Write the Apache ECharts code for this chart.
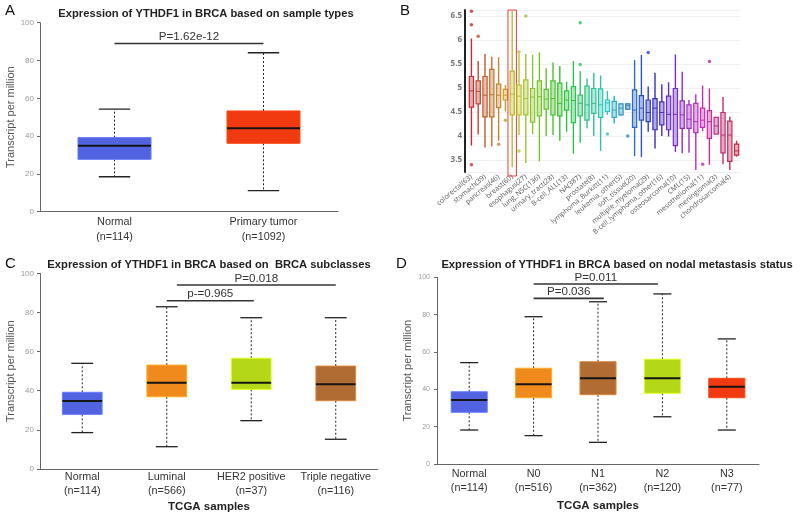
<!DOCTYPE html>
<html><head><meta charset="utf-8">
<script src="https://cdn.jsdelivr.net/npm/echarts@6/dist/echarts.min.js"></script>
<style>html,body{margin:0;padding:0;background:#fff}#c{width:800px;height:517px}</style>
</head><body><div id="c"></div>
<script>
// ---------- Panel A: sample types ----------
const catsA = ['Normal\n(n=114)', 'Primary tumor\n(n=1092)'];
// [min, Q1, median, Q3, max]
const boxA = [[18.5, 27.7, 34.9, 39.2, 54.3], [11.1, 36.2, 44.1, 53.3, 84.1]];
const colorsA = ['#5163e0', '#f23a10'];
const sigA = [[0, 1, 89, 'P=1.62e-12']];

// ---------- Panel B: cell lines (CCLE) ----------
const catsB = ['colorectal(63)', '', 'stomach(39)', '', 'pancreas(46)', '', 'breast(60)', '', 'esophagus(27)', '',
  'lung_NSC(136)', '', 'urinary_tract(28)', '', 'B-cell_ALL(13)', '', 'NA(387)', '', 'prostate(8)', '',
  'lymphoma_Burkitt(11)', '', 'leukemia_other(5)', '', 'soft_tissue(20)', '', 'multiple_myeloma(29)', '', 'B-cell_lymphoma_other(16)', '',
  'osteosarcoma(10)', '', 'CML(15)', '', 'mesothelioma(11)', '', 'meningioma(3)', '', 'chondrosarcoma(4)', ''];
const boxB = [
  [3.80, 4.60, 4.94, 5.24, 6.03], [4.03, 4.67, 4.93, 5.15, 5.56], [3.76, 4.40, 4.85, 5.24, 5.71], [3.78, 4.40, 4.86, 5.39, 5.65],
  [3.90, 4.59, 4.85, 5.08, 5.64], [4.51, 4.75, 4.85, 4.97, 5.06], [3.35, 4.44, 4.87, 5.35, 6.60], [4.02, 4.44, 4.83, 5.06, 5.72],
  [3.44, 4.44, 4.78, 5.17, 5.71], [4.04, 4.29, 4.81, 4.99, 5.69], [3.47, 4.42, 4.82, 5.15, 5.74], [4.00, 4.56, 4.77, 4.97, 5.41],
  [4.02, 4.44, 4.78, 5.15, 5.53], [3.90, 4.42, 4.68, 5.10, 5.46], [4.09, 4.54, 4.75, 4.94, 5.13], [3.63, 4.28, 4.74, 5.03, 5.56],
  [3.86, 4.42, 4.68, 4.85, 5.35], [4.16, 4.33, 4.65, 5.04, 5.20], [4.00, 4.47, 4.68, 4.99, 5.32], [3.69, 4.39, 4.65, 4.98, 5.26],
  [4.44, 4.51, 4.69, 4.75, 4.94], [4.26, 4.39, 4.54, 4.72, 4.84], [4.42, 4.44, 4.58, 4.67, 4.69], [4.54, 4.56, 4.63, 4.67, 4.68],
  [3.58, 4.18, 4.54, 4.96, 5.58], [3.56, 4.33, 4.58, 4.84, 5.69], [4.09, 4.30, 4.49, 4.75, 5.03], [3.74, 4.13, 4.58, 4.78, 5.32],
  [4.00, 4.23, 4.49, 4.71, 5.08], [3.99, 4.13, 4.45, 4.83, 5.12], [3.67, 3.80, 4.45, 4.99, 5.70], [3.64, 4.16, 4.44, 4.73, 5.34],
  [3.65, 4.16, 4.35, 4.65, 4.75], [3.29, 4.07, 4.30, 4.68, 4.87], [4.10, 4.18, 4.33, 4.58, 5.05], [3.40, 3.95, 4.30, 4.53, 4.99],
  [4.04, 4.04, 4.21, 4.39, 4.39], [3.41, 3.65, 4.02, 4.49, 4.81], [3.29, 3.47, 4.02, 4.31, 4.40], [3.57, 3.60, 3.69, 3.83, 3.90]
];
// [category index, value]
const outliersB = [[0, 6.32], [0, 6.60], [0, 3.40], [1, 6.08], [4, 3.83], [5, 4.33], [7, 5.75], [7, 3.69], [8, 6.50],
  [16, 6.36], [16, 5.49], [20, 4.04], [23, 4.00], [26, 5.74], [34, 3.41], [35, 5.55]];
const highlightB = [6];

// ---------- Panel C: BRCA subclasses ----------
const catsC = ['Normal\n(n=114)', 'Luminal\n(n=566)', 'HER2 positive\n(n=37)', 'Triple negative\n(n=116)'];
const boxC = [[18.6, 27.9, 34.7, 39.2, 54.0], [11.4, 36.9, 44.1, 53.1, 82.9], [24.7, 40.7, 44.1, 56.6, 77.3], [15.2, 34.9, 43.3, 52.6, 77.3]];
const colorsC = ['#5163e0', '#f08a1c', '#b4d817', '#b06c33'];
const sigC = [[1.12, 3, 94, 'P=0.018'], [1, 2.03, 86, 'p-=0.965']];

// ---------- Panel D: nodal metastasis ----------
const catsD = ['Normal\n(n=114)', 'N0\n(n=516)', 'N1\n(n=362)', 'N2\n(n=120)', 'N3\n(n=77)'];
const boxD = [[18.2, 27.7, 34.3, 38.7, 54.3], [15.2, 35.5, 42.7, 51.3, 78.9], [11.6, 37.1, 45.9, 54.8, 86.9], [25.3, 37.9, 45.9, 56.1, 91.1], [18.2, 35.5, 41.4, 45.9, 67.0]];
const colorsD = ['#5163e0', '#f08a1c', '#b06c33', '#b4d817', '#f23a10'];
const sigD = [[1, 2.93, 96.4, 'P=0.011'], [1, 2.09, 88.7, 'P=0.036']];

// ---------- rendering helpers ----------
const colorB = i => 'hsl(' + Math.round(i * 360 / catsB.length) + ',62%,47%)';
const colorBa = i => 'hsla(' + Math.round(i * 360 / catsB.length) + ',62%,55%,0.45)';

function boxRender(colors, boxRatio, capRatio) {
  return function (params, api) {
    const i = api.value(0);
    const bw = api.size([1, 0])[0];
    const h = bw * boxRatio / 2, ch = h * capRatio;
    const p = k => api.coord([i, api.value(k)]);
    const lo = p(1), q1 = p(2), md = p(3), q3 = p(4), hi = p(5);
    const x = md[0];
    const col = colors[params.dataIndex];
    const dash = { stroke: '#222', lineWidth: 1, lineDash: [2, 2] };
    const cap = { stroke: '#222', lineWidth: 1.3 };
    return { type: 'group', children: [
      { type: 'line', shape: { x1: x, y1: q3[1], x2: x, y2: hi[1] }, style: dash },
      { type: 'line', shape: { x1: x, y1: q1[1], x2: x, y2: lo[1] }, style: dash },
      { type: 'line', shape: { x1: x - ch, y1: hi[1], x2: x + ch, y2: hi[1] }, style: cap },
      { type: 'line', shape: { x1: x - ch, y1: lo[1], x2: x + ch, y2: lo[1] }, style: cap },
      { type: 'rect', shape: { x: x - h, y: q3[1], width: 2 * h, height: q1[1] - q3[1] },
        style: { fill: col, stroke: echarts.color.lift(col, -0.25), lineWidth: 1 } },
      { type: 'line', shape: { x1: x - h, y1: md[1], x2: x + h, y2: md[1] }, style: { stroke: '#151515', lineWidth: 2 } }
    ] };
  };
}

function sigRender(sig) {
  return function (params, api) {
    const s = sig[params.dataIndex];
    const bw = api.size([1, 0])[0];
    const xf = v => api.coord([Math.floor(v), s[2]])[0] + (v - Math.floor(v)) * bw;
    const y = api.coord([0, s[2]])[1];
    const x1 = xf(s[0]), x2 = xf(s[1]);
    return { type: 'group', children: [
      { type: 'line', shape: { x1: x1, y1: y, x2: x2, y2: y }, style: { stroke: '#333', lineWidth: 1.6 } },
      { type: 'text', x: (x1 + x2) / 2, y: y - 0.5,
        style: { text: s[3], fill: '#333', font: '11.6px Arial', textAlign: 'center', textVerticalAlign: 'bottom', align: 'center', verticalAlign: 'bottom' } }
    ] };
  };
}

function renderB(params, api) {
  const i = api.value(0);
  const bw = api.size([1, 0])[0];
  const h = bw * 0.31;
  const p = k => api.coord([i, api.value(k)]);
  const lo = p(1), q1 = p(2), md = p(3), q3 = p(4), hi = p(5);
  const x = md[0];
  const col = colorB(i);
  const children = [
    { type: 'line', shape: { x1: x, y1: q3[1], x2: x, y2: hi[1] }, style: { stroke: col, lineWidth: 1.4 } },
    { type: 'line', shape: { x1: x, y1: q1[1], x2: x, y2: lo[1] }, style: { stroke: col, lineWidth: 1.4 } },
    { type: 'rect', shape: { x: x - h, y: q3[1], width: 2 * h, height: q1[1] - q3[1] }, style: { fill: colorBa(i), stroke: col, lineWidth: 1.2 } },
    { type: 'line', shape: { x1: x - h, y1: md[1], x2: x + h, y2: md[1] }, style: { stroke: col, lineWidth: 1 } }
  ];
  if (highlightB.indexOf(i) >= 0) {
    const cs = params.coordSys;
    const hw = bw * 0.62;
    children.push({ type: 'rect', shape: { x: x - hw, y: cs.y, width: 2 * hw, height: cs.height + 4 },
      style: { fill: 'none', stroke: '#f03c3c', lineWidth: 1 } });
  }
  return { type: 'group', children: children };
}

const toRows = arr => arr.map((b, i) => [i].concat(b));
const sigRows = arr => arr.map(s => [Math.floor(s[0]), s[2]]);

function valueY(gridIndex, nameGap, labelSize, margin) {
  return {
    type: 'value', gridIndex: gridIndex, min: 0, max: 100, interval: 20,
    name: 'Transcript per million', nameLocation: 'middle', nameGap: nameGap,
    nameTextStyle: { fontSize: 11, color: '#555', fontFamily: 'Arial' },
    axisLine: { show: true, lineStyle: { color: '#666', width: 1 } },
    axisTick: { show: true, length: 3, lineStyle: { color: '#666' } },
    axisLabel: { fontSize: labelSize, color: '#999', margin: margin, fontFamily: 'Arial' },
    splitLine: { show: false }
  };
}
function catX(gridIndex, data, lineHeight, margin, name, nameGap) {
  return {
    type: 'category', gridIndex: gridIndex, data: data,
    name: name || '', nameLocation: 'middle', nameGap: nameGap || 0,
    nameTextStyle: { fontSize: 11.5, fontWeight: 'bold', color: '#222', fontFamily: 'Arial' },
    axisLine: { show: true, lineStyle: { color: '#666', width: 1 } },
    axisTick: { show: false },
    axisLabel: { fontSize: 10.8, color: '#333', lineHeight: lineHeight, margin: margin, interval: 0, fontFamily: 'Arial' },
    splitLine: { show: false }
  };
}

const titleFont = { fontSize: 11.2, fontWeight: 'bold', color: '#222', fontFamily: 'Arial' };
const letterFont = { fontSize: 15, fontWeight: 'normal', color: '#111', fontFamily: 'Arial' };

const chart = echarts.init(document.getElementById('c'), null, { renderer: 'canvas' });
chart.setOption({
  backgroundColor: '#fff',
  animation: false,
  title: [
    { text: 'A', left: 5, top: 3, padding: 0, textStyle: letterFont },
    { text: 'B', left: 400, top: 3, padding: 0, textStyle: letterFont },
    { text: 'C', left: 5, top: 256, padding: 0, textStyle: letterFont },
    { text: 'D', left: 396, top: 256, padding: 0, textStyle: letterFont },
    { text: 'Expression of YTHDF1 in BRCA based on sample types', left: 206, top: 8, padding: 0, textAlign: 'center', textStyle: titleFont },
    { text: 'Expression of YTHDF1 in BRCA based on  BRCA subclasses', left: 209, top: 259, padding: 0, textAlign: 'center', textStyle: titleFont },
    { text: 'Expression of YTHDF1 in BRCA based on nodal metastasis status', left: 617, top: 259, padding: 0, textAlign: 'center', textStyle: titleFont }
  ],
  grid: [
    { left: 40, top: 22.7, width: 298, height: 189, containLabel: false, outerBoundsMode: 'none' },
    { left: 468, top: 10, width: 272, height: 162, containLabel: false, outerBoundsMode: 'none' },
    { left: 40, top: 273.3, width: 338, height: 195.7, containLabel: false, outerBoundsMode: 'none' },
    { left: 437, top: 277.3, width: 322, height: 186.7, containLabel: false, outerBoundsMode: 'none' }
  ],
  xAxis: [
    catX(0, catsA, 15, 3),
    {
      type: 'category', gridIndex: 1, data: catsB,
      axisLine: { show: false }, axisTick: { show: false }, splitLine: { show: false },
      axisLabel: { interval: 0, rotate: 40, fontSize: 7, color: '#555', margin: 4, fontFamily: 'Open Sans' }
    },
    catX(2, catsC, 13.5, 1.5, 'TCGA samples', 32),
    catX(3, catsD, 14, 3, 'TCGA samples', 36)
  ],
  yAxis: [
    valueY(0, 23, 8, 6),
    {
      type: 'value', gridIndex: 1, min: 3.25, max: 6.625, minInterval: 0.5, maxInterval: 0.5, offset: 3,
      axisLine: { show: true, lineStyle: { color: '#222', width: 2 } },
      axisTick: { show: false },
      axisLabel: { fontSize: 8, fontWeight: 'bold', color: '#777', margin: 3, showMinLabel: false, showMaxLabel: false, fontFamily: 'Open Sans' },
      splitLine: { show: true, lineStyle: { color: '#f0f0f0', width: 1 } }
    },
    valueY(2, 23, 8, 6),
    valueY(3, 24, 7, 7)
  ],
  series: [
    { type: 'custom', xAxisIndex: 0, yAxisIndex: 0, data: toRows(boxA), encode: { x: 0, y: [1, 2, 3, 4, 5] }, renderItem: boxRender(colorsA, 0.49, 0.43) },
    { type: 'custom', xAxisIndex: 0, yAxisIndex: 0, data: sigRows(sigA), encode: { x: 0, y: 1 }, renderItem: sigRender(sigA) },
    { type: 'custom', xAxisIndex: 1, yAxisIndex: 1, data: toRows(boxB), encode: { x: 0, y: [1, 2, 3, 4, 5] }, renderItem: renderB },
    { type: 'scatter', xAxisIndex: 1, yAxisIndex: 1, data: outliersB, symbolSize: 3.5,
      itemStyle: { color: p => colorB(p.value[0]) } },
    { type: 'custom', xAxisIndex: 2, yAxisIndex: 2, data: toRows(boxC), encode: { x: 0, y: [1, 2, 3, 4, 5] }, renderItem: boxRender(colorsC, 0.47, 0.55) },
    { type: 'custom', xAxisIndex: 2, yAxisIndex: 2, data: sigRows(sigC), encode: { x: 0, y: 1 }, renderItem: sigRender(sigC) },
    { type: 'custom', xAxisIndex: 3, yAxisIndex: 3, data: toRows(boxD), encode: { x: 0, y: [1, 2, 3, 4, 5] }, renderItem: boxRender(colorsD, 0.56, 0.5) },
    { type: 'custom', xAxisIndex: 3, yAxisIndex: 3, data: sigRows(sigD), encode: { x: 0, y: 1 }, renderItem: sigRender(sigD) }
  ]
});
</script>
</body></html>
